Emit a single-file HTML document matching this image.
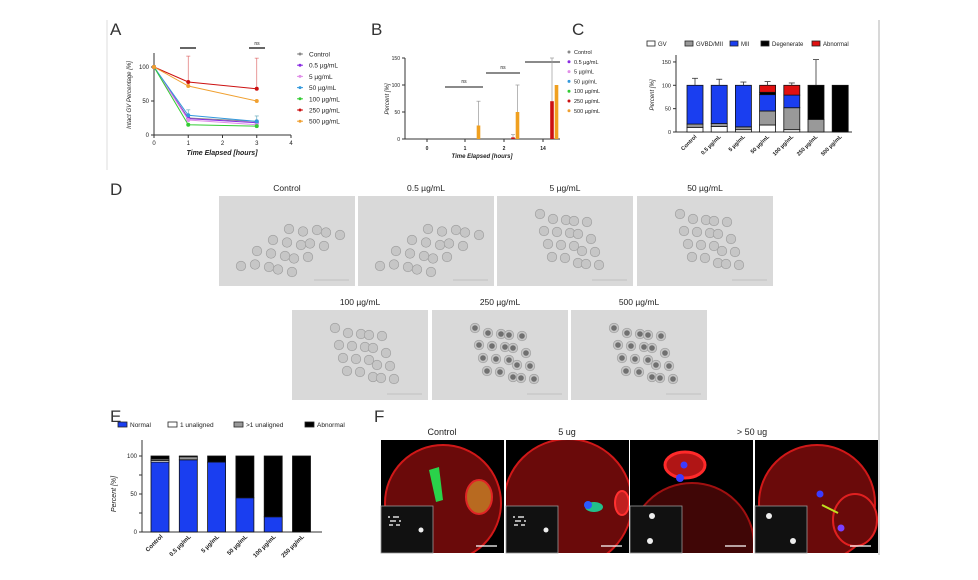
<!DOCTYPE html>
<html><head><meta charset="utf-8"><style>
html,body{margin:0;padding:0;background:#fff;width:978px;height:580px;overflow:hidden;}
svg{display:block;font-family:"Liberation Sans",sans-serif;}
</style></head><body>
<svg id="fig" width="978" height="580" viewBox="0 0 978 580" xmlns="http://www.w3.org/2000/svg" overflow="hidden">
<line x1="107" y1="20" x2="107" y2="170" stroke="#ddd" stroke-width="1"/>
<line x1="879" y1="20" x2="879" y2="555" stroke="#ccc" stroke-width="1.5"/>
</svg>
<script>
// ---- Panel A data
const aTimes=[0,1,3];
const aSeries=["Control","0.5 µg/mL","5 µg/mL","50 µg/mL","100 µg/mL","250 µg/mL","500 µg/mL"];
const aColors=["#888","#8a2be2","#e08ee8","#3399dd","#33cc33","#cc1111","#f0a030"];
const aControl=[100,25,20];
const a05=[100,24,18];
const a5=[100,22,15];
const a50=[100,29,20];
const a100=[100,15,13];
const a250=[100,78,68];
const a500=[100,72,50];
const aErr250=[0,38,45];
const aTicksX=[0,1,2,3,4];
const aTicksY=[0,50,100];
// ---- Panel B data
const bCats=["0","1","2","14"];
const bSeries250=[0,0,3,70];
const bSeries500=[0,25,50,100];
const bErr500=[0,45,50,0];
const bErr250=[0,0,5,80];
const bTicksY=[0,50,100,150];
// ---- Panel C data
const cCats=["Control","0.5 µg/mL","5 µg/mL","50 µg/mL","100 µg/mL","250 µg/mL","500 µg/mL"];
const cGV=[10,12,5,15,5,0,0];
const cGVBD=[7,6,6,30,47,27,0];
const cMII=[83,82,89,35,27,0,0];
const cDegen=[0,0,0,5,0,73,100];
const cAbn=[0,0,0,15,21,0,0];
const cErr=[15,13,7,8,5,55,0];
const cTicksY=[0,50,100,150];
// ---- Panel E data
const eCats=["Control","0.5 µg/mL","5 µg/mL","50 µg/mL","100 µg/mL","250 µg/mL"];
const eNormal=[92,95,92,45,20,0];
const eOne=[2,0,0,0,0,0];
const eMore=[2,4,0,0,0,0];
const eAbn=[4,1,8,55,80,100];
const eTicksY=[0,25,50,75,100];

const svg=document.getElementById('fig');
const NS="http://www.w3.org/2000/svg";
function mk(tag,at,parent){const e=document.createElementNS(NS,tag);for(const k in at)e.setAttribute(k,at[k]);(parent||svg).appendChild(e);return e;}
function txt(x,y,s,size,at,parent){const e=mk('text',Object.assign({x:x,y:y,'font-size':size,fill:'#222'},at||{}),parent);e.textContent=s;return e;}

[["A",110,35],["B",371,35],["C",572,35],["D",110,195],["E",110,422],["F",374,422]].forEach(p=>{
 const t=txt(p[1],p[2],p[0],17,{fill:'#333'});
 
 
});

// ===== Panel A
const xA=t=>154+t*(291-154)/4, yA=v=>135-v*0.68;
const gA=mk('g',{});


mk('line',{x1:154,y1:53,x2:154,y2:135,stroke:'#333','stroke-width':1},gA);
mk('line',{x1:154,y1:135,x2:291,y2:135,stroke:'#333','stroke-width':1},gA);
aTicksX.forEach(t=>{mk('line',{x1:xA(t),y1:135,x2:xA(t),y2:138,stroke:'#333'},gA);const l=txt(xA(t),145,String(t),6,{'text-anchor':'middle'},gA);});
aTicksY.forEach(v=>{mk('line',{x1:151,y1:yA(v),x2:154,y2:yA(v),stroke:'#333'},gA);const l=txt(149,yA(v)+2,String(v),6,{'text-anchor':'end'},gA);});
const aT=txt(222,155,"Time Elapsed [hours]",7,{'text-anchor':'middle','font-style':'italic','font-weight':'bold'},gA);

const aY=txt(0,0,"Intact GV Percentage [%]",6,{'text-anchor':'middle','font-style':'italic',transform:'translate(131,95) rotate(-90)'},gA);

mk('line',{x1:180,y1:48,x2:196,y2:48,stroke:'#333','stroke-width':1.5},gA);
mk('line',{x1:249,y1:48,x2:265,y2:48,stroke:'#333','stroke-width':1.5},gA);
txt(257,45,"ns",5,{'text-anchor':'middle'},gA);
const aData=[aControl,a05,a5,a50,a100,a250,a500];
aData.forEach((arr,si)=>{
 const pts=arr.map((v,i)=>xA(aTimes[i])+','+yA(v)).join(' ');
 const pl=mk('polyline',{points:pts,fill:'none',stroke:aColors[si],'stroke-width':1},gA);
 
 arr.forEach((v,i)=>{
  if(si===5&&aErr250[i]>0){mk('line',{x1:xA(aTimes[i]),y1:yA(v),x2:xA(aTimes[i]),y2:yA(v+aErr250[i]),stroke:'#e07070','stroke-width':0.7},gA);mk('line',{x1:xA(aTimes[i])-2,y1:yA(v+aErr250[i]),x2:xA(aTimes[i])+2,y2:yA(v+aErr250[i]),stroke:'#e07070','stroke-width':0.7},gA);}
  if(si===3&&i>0){mk('line',{x1:xA(aTimes[i]),y1:yA(v),x2:xA(aTimes[i]),y2:yA(v+8),stroke:'#6ab','stroke-width':0.7},gA);mk('line',{x1:xA(aTimes[i])-2,y1:yA(v+8),x2:xA(aTimes[i])+2,y2:yA(v+8),stroke:'#6ab','stroke-width':0.7},gA);}
  const c=mk('circle',{cx:xA(aTimes[i]),cy:yA(v),r:2,fill:aColors[si]},gA);
  
 });
 const ly=54+si*11.2;
 mk('line',{x1:297,y1:ly,x2:303,y2:ly,stroke:aColors[si]},gA);
 mk('circle',{cx:300,cy:ly,r:1.5,fill:aColors[si]},gA);
 const lt=txt(309,ly+2.5,aSeries[si],6.5,{},gA);
 
});

// ===== Panel B
const bCenters=[427,465,504,543];
const yB=v=>139-v*0.54;
const gB=mk('g',{});


mk('line',{x1:405,y1:58,x2:405,y2:139,stroke:'#333'},gB);
mk('line',{x1:405,y1:139,x2:560,y2:139,stroke:'#333'},gB);
bTicksY.forEach(v=>{mk('line',{x1:402,y1:yB(v),x2:405,y2:yB(v),stroke:'#333'},gB);const l=txt(400,yB(v)+2,String(v),5,{'text-anchor':'end'},gB);});
bCats.forEach((c,i)=>{mk('line',{x1:bCenters[i],y1:139,x2:bCenters[i],y2:142,stroke:'#333'},gB);const l=txt(bCenters[i],150,c,5,{'text-anchor':'middle','font-weight':'bold'},gB);});
const bT=txt(482,158,"Time Elapsed [hours]",6,{'text-anchor':'middle','font-style':'italic','font-weight':'bold'},gB);

const bY=txt(0,0,"Percent [%]",6,{'text-anchor':'middle','font-style':'italic',transform:'translate(389,99) rotate(-90)'},gB);

[[445,483,87,"ns"],[486,520,73,"ns"],[525,560,62,""]].forEach(s=>{mk('line',{x1:s[0],y1:s[2],x2:s[1],y2:s[2],stroke:'#444','stroke-width':1.3},gB);if(s[3])txt((s[0]+s[1])/2,s[2]-4,s[3],5,{'text-anchor':'middle'},gB);});
bCats.forEach((c,i)=>{
 [[bSeries250,bErr250,'#cc1111',9],[bSeries500,bErr500,'#f0a020',13.5]].forEach(sp=>{
  const v=sp[0][i],x=bCenters[i]+sp[3];
  if(sp[1][i]>0){mk('line',{x1:x,y1:yB(v),x2:x,y2:yB(v+sp[1][i]),stroke:'#999','stroke-width':0.7},gB);mk('line',{x1:x-2,y1:yB(v+sp[1][i]),x2:x+2,y2:yB(v+sp[1][i]),stroke:'#999','stroke-width':0.7},gB);}
  if(v>0){const r=mk('rect',{x:x-1.8,y:yB(v),width:3.6,height:139-yB(v),fill:sp[2]},gB);}
 });
});
const bLeg=["Control","0.5 µg/mL","5 µg/mL","50 µg/mL","100 µg/mL","250 µg/mL","500 µg/mL"];
bLeg.forEach((s,i)=>{const ly=52+i*9.8;mk('circle',{cx:569,cy:ly,r:1.5,fill:aColors[i]},gB);const lt=txt(574,ly+2,s,5.5,{},gB);});

// ===== Panel C
const yC=v=>132-v*0.467, xC=i=>687+i*24.2;
const gC=mk('g',{});


const cLeg=[["GV","#fff"],["GVBD/MII","#999"],["MII","#1a3ef0"],["Degenerate","#000"],["Abnormal","#e01010"]];
const cLx=[647,685,730,761,812];
cLeg.forEach((l,i)=>{mk('rect',{x:cLx[i],y:41,width:8,height:5,fill:l[1],stroke:'#222','stroke-width':0.8},gC);const t=txt(cLx[i]+11,46,l[0],6,{},gC);});
mk('line',{x1:676,y1:55,x2:676,y2:132,stroke:'#333'},gC);
mk('line',{x1:676,y1:132,x2:852,y2:132,stroke:'#333'},gC);
cTicksY.forEach(v=>{mk('line',{x1:673,y1:yC(v),x2:676,y2:yC(v),stroke:'#333'},gC);const l=txt(671,yC(v)+2,String(v),5.5,{'text-anchor':'end'},gC);});
const cY=txt(0,0,"Percent [%]",6,{'text-anchor':'middle','font-style':'italic',transform:'translate(654,95) rotate(-90)'},gC);

cCats.forEach((c,i)=>{
 let base=0;const x=xC(i);
 [[cGV,'#fff'],[cGVBD,'#999'],[cMII,'#1a3ef0'],[cDegen,'#000'],[cAbn,'#e01010']].forEach(sp=>{
  const v=sp[0][i];if(v<=0)return;
  const r=mk('rect',{x:x,y:yC(base+v),width:16,height:v*0.467,fill:sp[1],stroke:'#111','stroke-width':0.8},gC);
  
  base+=v;
 });
 if(cErr[i]>0){mk('line',{x1:x+8,y1:yC(100),x2:x+8,y2:yC(100+cErr[i]),stroke:'#333','stroke-width':0.8},gC);mk('line',{x1:x+5,y1:yC(100+cErr[i]),x2:x+11,y2:yC(100+cErr[i]),stroke:'#333','stroke-width':0.8},gC);}
 const l=txt(0,0,c,5.5,{'text-anchor':'end','font-weight':'bold',transform:`translate(${x+10},137) rotate(-45)`},gC);
 
});

// ===== Panel D
const dImgs=[["Control",219,196,"light"],["0.5 µg/mL",358,196,"light"],["5 µg/mL",497,196,"light"],["50 µg/mL",637,196,"light"],["100 µg/mL",292,310,"light"],["250 µg/mL",432,310,"dark"],["500 µg/mL",571,310,"dark"]];
dImgs.forEach((d,k)=>{
 const g=mk('g',{});
 
 
 const lab=txt(d[1]+68,d[2]-5,d[0],8.5,{'text-anchor':'middle'},g);
 
 mk('rect',{x:d[1],y:d[2],width:136,height:90,fill:'#d9d9d9'},g);
 for(let n=0;n<20;n++){
  const r=n%5,c=Math.floor(n/5);
  let cx,cy;
  if(k<2){cx=d[1]+22+r*12+c*16+((n*7)%5);cy=d[2]+70-c*12+r*1.5-((n*3)%4);}
  else{cx=d[1]+45+r*11+c*4+((n*7)%5)-2;cy=d[2]+18+c*14+r*2+((n*3)%4);}
  mk('circle',{cx:cx,cy:cy,r:4.8,fill:'#c6c6c6',stroke:'#9a9a9a','stroke-width':0.6},g);
  if(d[3]==='dark')mk('circle',{cx:cx,cy:cy,r:2.8,fill:'#707070'},g);
 }
 mk('line',{x1:d[1]+95,y1:d[2]+84,x2:d[1]+130,y2:d[2]+84,stroke:'#aaa','stroke-width':0.6},g);
});

// ===== Panel E
const yE=v=>532-v*0.76, xE=i=>151+i*28.3;
const gE=mk('g',{});


const eLeg=[["Normal","#1a3ef0",118],["1 unaligned","#fff",168],[">1 unaligned",'#999',234],["Abnormal","#000",305]];
eLeg.forEach(l=>{mk('rect',{x:l[2],y:422,width:9,height:5,fill:l[1],stroke:'#222','stroke-width':0.8},gE);const t=txt(l[2]+12,427,l[0],6.5,{},gE);});
mk('line',{x1:142,y1:440,x2:142,y2:532,stroke:'#333'},gE);
mk('line',{x1:142,y1:532,x2:322,y2:532,stroke:'#333'},gE);
eTicksY.forEach(v=>{mk('line',{x1:139,y1:yE(v),x2:142,y2:yE(v),stroke:'#333'},gE);if(v%50===0){const l=txt(137,yE(v)+2,String(v),6,{'text-anchor':'end'},gE);}});
const eY=txt(0,0,"Percent [%]",7,{'text-anchor':'middle','font-style':'italic',transform:'translate(116,494) rotate(-90)'},gE);

eCats.forEach((c,i)=>{
 let base=0;const x=xE(i);
 [[eNormal,'#1a3ef0'],[eOne,'#fff'],[eMore,'#999'],[eAbn,'#000']].forEach(sp=>{
  const v=sp[0][i];if(v<=0)return;
  const r=mk('rect',{x:x,y:yE(base+v),width:18,height:v*0.76,fill:sp[1],stroke:'#111','stroke-width':0.8},gE);
  
  base+=v;
 });
 const l=txt(0,0,c,6,{'text-anchor':'end','font-weight':'bold',transform:`translate(${x+12},537) rotate(-45)`},gE);
 
});

// ===== Panel F
const fImgs=[381,506,630,755];
[["Control",442],["5 ug",567],["> 50 ug",752]].forEach(l=>{const t=txt(l[1],435,l[0],9,{'text-anchor':'middle'});});
fImgs.forEach((x,k)=>{
 const g=mk('g',{});
 
 
 mk('rect',{x:x,y:440,width:123,height:113,fill:'#000'},g);
 const cp='cp'+k;
 const clip=mk('clipPath',{id:cp},g);mk('rect',{x:x,y:440,width:123,height:113},clip);
 const inner=mk('g',{'clip-path':`url(#${cp})`},g);
 if(k===2){
  mk('circle',{cx:x+62,cy:545,r:62,fill:'#400606',stroke:'#a01010','stroke-width':2},inner);
  mk('ellipse',{cx:x+55,cy:465,rx:20,ry:13,fill:'#b01515',stroke:'#ff2a2a','stroke-width':3},inner);
  mk('circle',{cx:x+54,cy:465,r:3.5,fill:'#3b3bff'},inner);
  mk('circle',{cx:x+50,cy:478,r:4,fill:'#3b3bff'},inner);
 } else {
  mk('circle',{cx:x+62,cy:503,r:(k===1?64:58),fill:'#6a0a0a',stroke:'#d01818','stroke-width':2},inner);
  if(k===0){
   mk('path',{d:`M${x+48} 470 L${x+58} 467 L${x+62} 500 L${x+55} 502 Z`,fill:'#2ad24a'},inner);
   mk('ellipse',{cx:x+98,cy:497,rx:13,ry:17,fill:'#b86a20',stroke:'#e02525','stroke-width':2},inner);
  }
  if(k===1){
   mk('ellipse',{cx:x+88,cy:507,rx:9,ry:5,fill:'#22c08a'},inner);
   mk('circle',{cx:x+82,cy:505,r:4,fill:'#2a5aff'},inner);
   mk('ellipse',{cx:x+116,cy:503,rx:7,ry:12,fill:'#c02020',stroke:'#ff3030','stroke-width':2},inner);
  }
  if(k===3){
   mk('ellipse',{cx:x+100,cy:520,rx:22,ry:26,fill:'#6a0a0a',stroke:'#e02020','stroke-width':2},inner);
   mk('circle',{cx:x+65,cy:494,r:3.5,fill:'#3b3bff'},inner);
   mk('line',{x1:x+67,y1:505,x2:x+83,y2:513,stroke:'#c0e020','stroke-width':2},inner);
   mk('circle',{cx:x+86,cy:528,r:3.5,fill:'#7a40ff'},inner);
  }
 }
 const ins=mk('rect',{x:x,y:506,width:52,height:47,fill:'#111',stroke:'#999','stroke-width':0.8},g);
 
 if(k<2){for(let n=0;n<12;n++)mk('circle',{cx:x+8+(n%4)*3+((n*5)%3),cy:517+Math.floor(n/4)*4,r:1,fill:'#ddd'},g);mk('circle',{cx:x+40,cy:530,r:2.5,fill:'#eee'},g);}
 else {mk('circle',{cx:x+(k===2?22:14),cy:516,r:3,fill:'#eee'},g);mk('circle',{cx:x+(k===2?20:38),cy:541,r:3,fill:'#eee'},g);}
 mk('line',{x1:x+95,y1:546,x2:x+116,y2:546,stroke:'#fff','stroke-width':1.2},g);
});
</script>
</body></html>
